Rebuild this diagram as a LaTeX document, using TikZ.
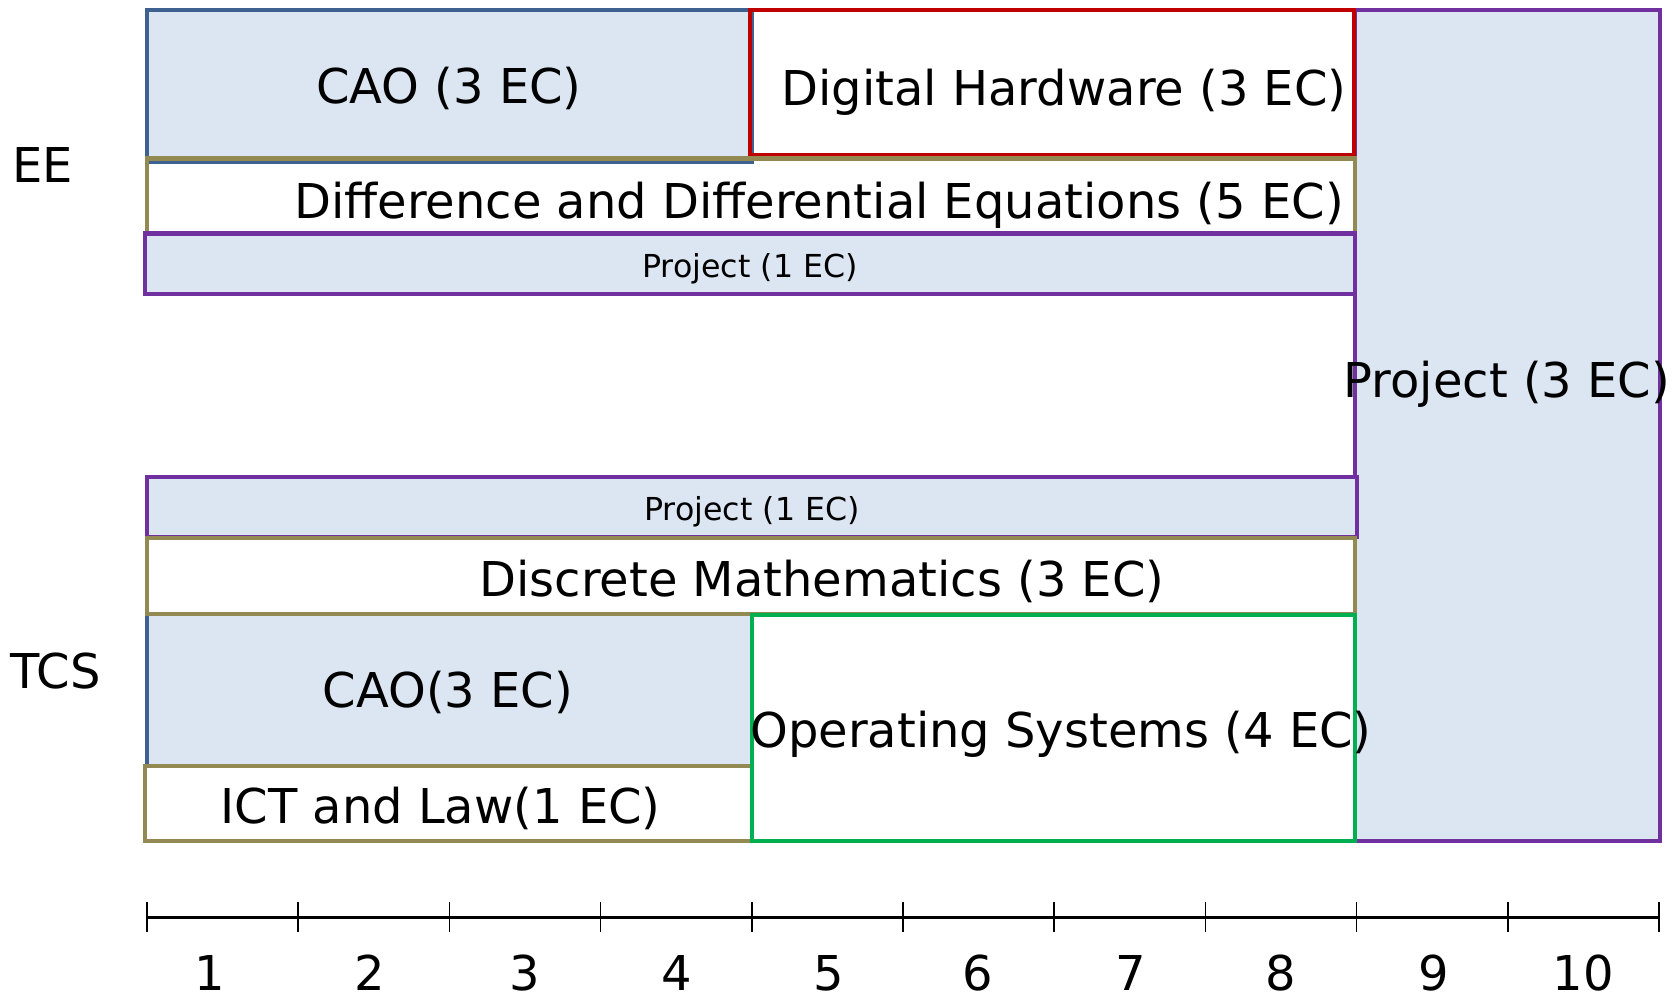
\documentclass[tikz,border=0pt]{standalone}
\usepackage{fontspec}
\setmainfont{DejaVu Sans}
\usepackage{xcolor}
\usepackage{tikz}
\usetikzlibrary{fit, calc}

\definecolor{boxfill}{HTML}{DCE6F2}
\definecolor{edgeblue}{HTML}{3F6190}
\definecolor{edgered}{HTML}{C00000}
\definecolor{edgeolive}{HTML}{938953}
\definecolor{edgepurple}{HTML}{7030A0}
\definecolor{edgegreen}{HTML}{00B050}

\begin{document}
\begin{tikzpicture}[
            course_box/.style={rectangle, inner sep=0pt, outer sep=0pt, line width=1.3pt},
            filled_box/.style={course_box, fill=boxfill},
            course_text/.style={inner sep=0pt, anchor=base, font=\fontsize{13.65pt}{16pt}\selectfont},
            small_text/.style={inner sep=0pt, anchor=base, font=\fontsize{9pt}{11pt}\selectfont},
            track_text/.style={inner sep=0pt, anchor=base west, font=\fontsize{13.65pt}{16pt}\selectfont},
            axis_line/.style={line width=0.85pt, black},
            tick_line/.style={line width=0.5pt, black}
        ]
            \useasboundingbox (0,0) rectangle (16.80,-9.98);

            % Final project spanning both tracks
            \node[filled_box, draw=edgepurple, fit={(13.55,-0.10) (16.60,-8.41)}] (big_proj) {};

            % EE track
            \node[filled_box, draw=edgeblue, fit={(1.47,-0.10) (7.52,-1.615)}] (cao_ee) {};
            \node[course_box, draw=edgered, fit={(7.50,-0.10) (13.54,-1.555)}] (dh_ee) {};
            \node[course_box, draw=edgeolive, fit={(1.47,-1.587) (13.55,-2.33)}] (dde_ee) {};
            \node[filled_box, draw=edgepurple, fit={(1.45,-2.335) (13.55,-2.94)}] (proj_ee) {};

            % TCS track
            \node[filled_box, draw=edgepurple, fit={(1.47,-4.77) (13.57,-5.37)}] (proj_tcs) {};
            \node[filled_box, draw=edgeblue, fit={(1.47,-6.14) (7.52,-7.66)}] (cao_tcs) {};
            \node[course_box, draw=edgeolive, fit={(1.47,-5.38) (13.55,-6.14)}] (dm_tcs) {};
            \node[course_box, draw=edgeolive, fit={(1.45,-7.66) (7.52,-8.41)}] (ict_tcs) {};
            \node[course_box, draw=edgegreen, fit={(7.52,-6.15) (13.55,-8.41)}] (os_tcs) {};

            % Texts
            \node[track_text] (ee_lbl) at (0.115,-1.82) {EE};
            \node[track_text] (tcs_lbl) at (0.095,-6.88) {TCS};

            \node[course_text] (cao_ee_txt) at (4.49,-1.03) {CAO (3 EC)};
            \node[course_text] (dh_ee_txt) at (10.64,-1.05) {Digital Hardware (3 EC)};
            \node[course_text] (dde_ee_txt) at (8.19,-2.18) {Difference and Differential Equations (5 EC)};
            \node[small_text] (proj_ee_txt) at (7.50,-2.77) {Project (1 EC)};

            \node[small_text] (proj_tcs_txt) at (7.52,-5.20) {Project (1 EC)};
            \node[course_text] (dm_tcs_txt) at (8.22,-5.96) {Discrete Mathematics (3 EC)};
            \node[course_text] (cao_tcs_txt) at (4.48,-7.07) {CAO(3 EC)};
            \node[course_text] (os_tcs_txt) at (10.61,-7.47) {Operating Systems (4 EC)};
            \node[course_text] (ict_tcs_txt) at (4.405,-8.23) {ICT and Law(1 EC)};

            \node[course_text] (big_proj_txt) at (15.07,-3.97) {Project (3 EC)};

            % Week axis
            \coordinate (axis_start) at (1.47,-9.17);
            \coordinate (axis_end) at (16.59,-9.17);
            \draw[axis_line] (axis_start) -- (axis_end);
            \foreach \k in {0,...,10} {
                \draw[tick_line] ($(axis_start)+(1.512*\k,0.15)$) -- ++(0,-0.30);
            }
            \foreach \w/\x in {1/2.10, 2/3.70, 3/5.25, 4/6.77, 5/8.285, 6/9.775, 7/11.31, 8/12.81, 9/14.34, 10/15.83} {
                \node[course_text] (week\w) at (\x,-9.90) {\w};
            }

        \end{tikzpicture}
\end{document}
